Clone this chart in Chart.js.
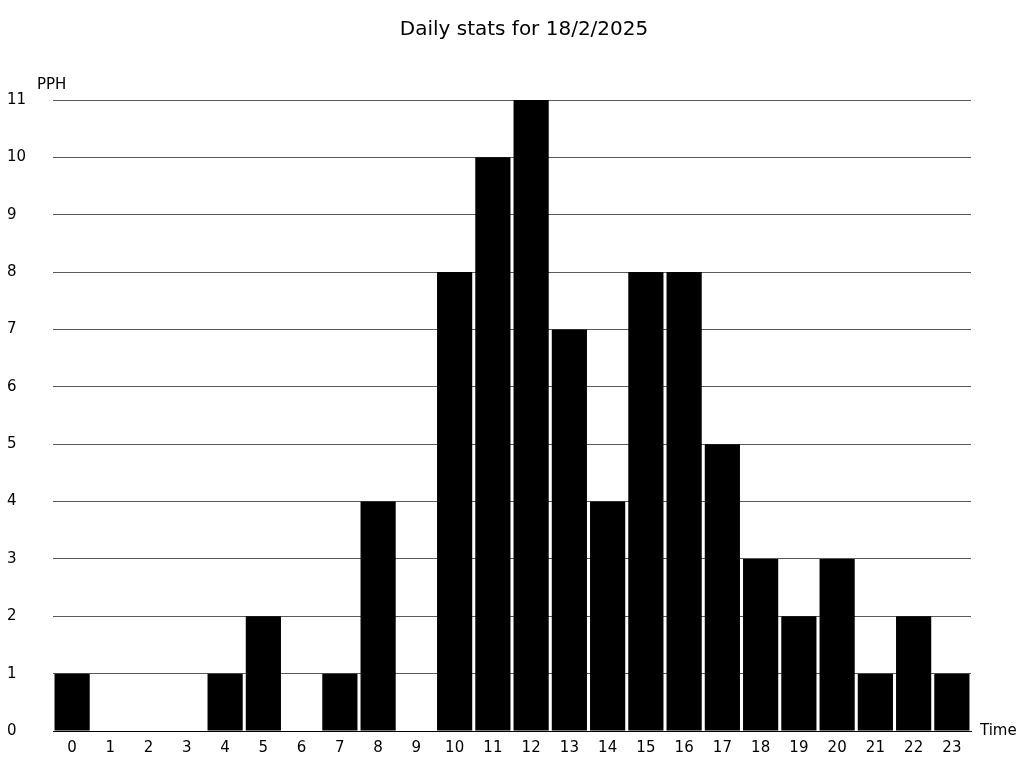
<!DOCTYPE html>
<html>
<head>
<meta charset="utf-8">
<script src="https://cdn.jsdelivr.net/npm/chart.js@4/dist/chart.umd.min.js"></script>
<style>
  html, body { margin: 0; padding: 0; background: #fff; }
  #wrap { width: 1024px; height: 768px; }
</style>
</head>
<body>
<div id="wrap"><canvas id="c"></canvas></div>
<script>
const titleText = "Daily stats for 18/2/2025";
const yAxisLabel = "PPH";
const xAxisLabel = "Time";
const hours = ["0","1","2","3","4","5","6","7","8","9","10","11","12","13","14","15","16","17","18","19","20","21","22","23"];
const pph = [1,0,0,0,1,2,0,1,4,0,8,10,11,7,4,8,8,5,3,2,3,1,2,1];
const yMax = 11;

const FONT = "'DejaVu Sans', sans-serif";

const textDecor = {
  id: 'textDecor',
  afterDraw(chart) {
    const ctx = chart.ctx;
    const a = chart.chartArea;
    ctx.save();
    ctx.fillStyle = '#000';
    ctx.textBaseline = 'middle';
    ctx.textAlign = 'center';
    ctx.font = "20px " + FONT;
    ctx.fillText(titleText, chart.width / 2 + 12, 30);
    ctx.font = "15px " + FONT;
    ctx.textAlign = 'left';
    ctx.fillText(yAxisLabel, 37, a.top - 15);
    ctx.fillText(xAxisLabel, a.right + 9, a.bottom);
    ctx.restore();
  }
};

new Chart(document.getElementById('c'), {
  type: 'bar',
  data: {
    labels: hours,
    datasets: [{
      data: pph,
      backgroundColor: '#000',
      borderWidth: 0,
      barPercentage: 0.92,
      categoryPercentage: 1.0
    }]
  },
  options: {
    responsive: true,
    maintainAspectRatio: false,
    animation: false,
    layout: { padding: { left: 7, right: 53, top: 100, bottom: 0 } },
    plugins: {
      legend: { display: false },
      tooltip: { enabled: false },
      title: { display: false }
    },
    scales: {
      x: {
        grid: { display: false, drawTicks: false },
        border: { display: true, color: '#000', width: 1 },
        ticks: { color: '#000', font: { family: FONT, size: 15 }, padding: 8, maxRotation: 0, autoSkip: false },
        afterFit(s) { s.height = 37; }
      },
      y: {
        min: 0,
        max: yMax,
        grid: { color: '#5a5a5a', lineWidth: 1, drawTicks: false },
        border: { display: false },
        ticks: { stepSize: 1, color: '#000', font: { family: FONT, size: 15 }, crossAlign: 'far', padding: 0 },
        afterFit(s) { s.width = 46; }
      }
    }
  },
  plugins: [textDecor]
});
</script>
</body>
</html>
